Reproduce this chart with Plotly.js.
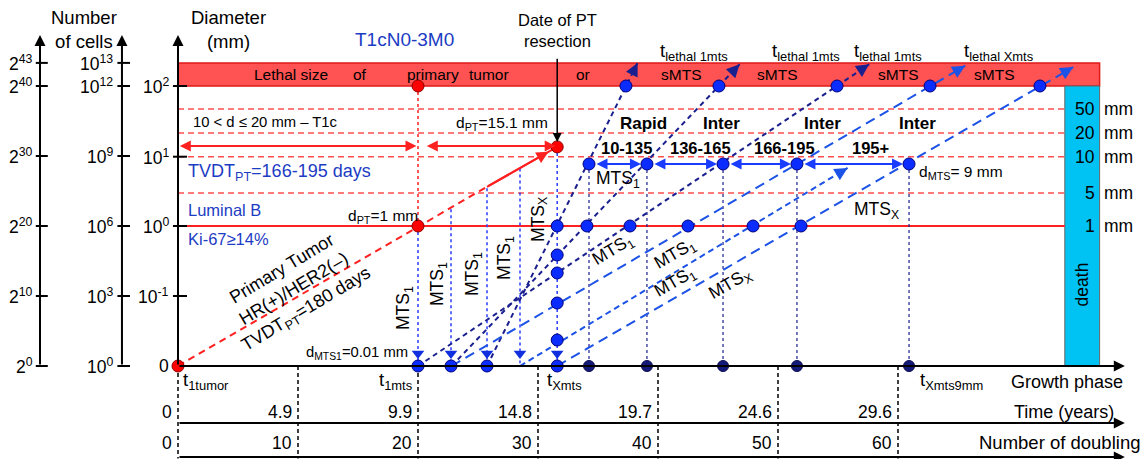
<!DOCTYPE html>
<html><head><meta charset="utf-8">
<script src="https://cdn.plot.ly/plotly-3.0.1.min.js"></script>
<style>html,body{margin:0;padding:0;background:#fff}#chart{width:1143px;height:459px}</style>
</head><body><div id="chart"></div>
<script>
// ===== DATA (x = number of doublings, y = tumour size in doublings: 0 = 0.01 mm, 20 = 1 mm, 40 = 100 mm) =====
const cellTickLevels   = [43.3, 40, 30, 20, 10, 0];
const cellLabelsBase2  = ['2<sup>43</sup>','2<sup>40</sup>','2<sup>30</sup>','2<sup>20</sup>','2<sup>10</sup>','2<sup>0</sup>'];
const cellLabelsBase10 = ['10<sup>13</sup>','10<sup>12</sup>','10<sup>9</sup>','10<sup>6</sup>','10<sup>3</sup>','10<sup>0</sup>'];
const diamTickLevels   = [40, 29.9, 20, 10, 0];
const diamTickLabels   = ['10<sup>2</sup>','10<sup>1</sup>','10<sup>0</sup>','10<sup>-1</sup>','0'];

const sizeLabels = ['50','20','10','5','1'];
const sizeLevels = [36.7, 33.3, 29.9, 24.7, 20];

const doublingMarks  = [0,10,20,30,40,50,60];
const yearLabels     = ['0','4.9','9.9','14.8','19.7','24.6','29.6'];
const doublingLabels = ['0','10','20','30','40','50','60'];

const lethalLevel = 40, bandTop = 43.3, deathStart = 73.9, deathEnd = 76.8, axisEnd = 78.9;

const ptX = [0, 20, 31.6];
const ptY = [0, 20, 31.3];
const ptLethalX = 20;

const bandWords = ['Lethal size','of','primary','tumor','or','sMTS','sMTS','sMTS','sMTS'];
const bandWordX = [9.42,15.17,21.25,25.92,33.75,41.92,49.92,60.0,68.0];

// metastasis growth lines: start on baseline, end at arrow tip
const mtsStartX = [25.75, 22.8, 20, 22.8, 31.6, 28.5];
const mtsTipX   = [38.3, 46.8, 57.6, 65.6, 74.6, 55.8];
const mtsTipY   = [43.3, 43.1, 43.1, 42.9, 42.7, 28.3];

// seeding verticals from the primary tumour line
const seedX    = [20, 22.75, 25.75, 28.5, 31.6];
const seedTopY = [20, 22.4, 25.4, 28.2, 31.3];

const topDotsX    = [37.33, 45.08, 54.92, 62.67, 71.83];
const oneMmDotsX  = [31.6, 34.08, 37.67, 42.5, 47.92, 51.92];
const nineMm      = 28.86;
const nineMmDotsX = [34.25, 39.08, 45.42, 51.58, 60.92];
const resectDotsY = [15.86, 13.29, 9.0, 3.71];
const baseBlueDotsX = [20, 22.75, 25.75, 31.6];

const rateLabels = ['Rapid','Inter','Inter','Inter'];
const tvdtRanges = ['10-135','136-165','166-195','195+'];
const lethalTimeLabels = ['t<sub>lethal 1mts</sub>','t<sub>lethal 1mts</sub>','t<sub>lethal 1mts</sub>','t<sub>lethal Xmts</sub>'];

// ===== DRAWING =====
const FONT = 'Liberation Sans, Arial, sans-serif';
const BLUE_TXT = '#1c3cc4';
const NAVY = '#1a1f8f', BLUE = '#1d52e6', DOTBLUE = '#0a2cff';
const traces = [], ann = [], shapes = [];

function seg(xs, ys, color, width, dash){
  traces.push({type:'scatter',mode:'lines',x:xs,y:ys,line:{color:color,width:width,dash:dash||'solid'},hoverinfo:'skip',showlegend:false,cliponaxis:false});
}
function arrow(x,y,ax,ay,o){
  o = o||{};
  ann.push({x:x,y:y,ax:ax,ay:ay,xref:'x',yref:'y',axref:'x',ayref:'y',text:'',showarrow:true,
    arrowhead:o.head||2,arrowsize:o.size||1,arrowwidth:o.width||2,arrowcolor:o.color||'#000',
    arrowside:o.side||'end',startarrowhead:o.head||2,startarrowsize:o.size||1,
    standoff:o.standoff||0,startstandoff:o.startstandoff||0});
}
function txt(x,y,text,o){
  o = o||{};
  const f = Object.assign({size:15,color:'#000',family:FONT}, o.font||{});
  const a = Object.assign({x:x,y:y,xref:'x',yref:'y',text:text,showarrow:false,xanchor:'center',yanchor:'middle'}, o);
  a.font = f;
  ann.push(a);
}
function dots(xs, ys, fill, line, size){
  traces.push({type:'scatter',mode:'markers',x:xs,y:ys,marker:{color:fill,size:size||11,line:{color:line,width:1}},hoverinfo:'skip',showlegend:false,cliponaxis:false});
}

// bands
shapes.push({type:'rect',xref:'x',yref:'y',x0:0,x1:deathEnd,y0:lethalLevel,y1:bandTop,fillcolor:'#ff5252',line:{color:'#e01818',width:1.5},layer:'below'});
shapes.push({type:'rect',xref:'x',yref:'y',x0:deathStart,x1:deathEnd,y0:0,y1:lethalLevel,fillcolor:'#00c2f3',line:{color:'#666',width:1},layer:'below'});

// size reference lines
sizeLevels.forEach(function(lv,i){
  const solid = (sizeLabels[i]==='1');
  seg([0,deathStart],[lv,lv], solid?'#ff2020':'#ff5050', solid?2:1.5, solid?'solid':'6px,4px');
  txt(76.6, lv, sizeLabels[i], {xanchor:'right', font:{size:17.5}});
  txt(77.0, lv, 'mm', {xanchor:'left', font:{size:17.5}});
});

// left axes
[[-11.5],[-4.67],[0]].forEach(function(a){ arrow(a[0],47.3,a[0],0,{width:2,size:1.1}); });
cellTickLevels.forEach(function(lv,i){
  seg([-11.85,-10.85],[lv,lv],'#000',2);
  txt(-11.95, lv, cellLabelsBase2[i], {xanchor:'right', font:{size:17.5}});
  seg([-5.05,-4.0],[lv,lv],'#000',2);
  txt(-5.25, lv, cellLabelsBase10[i], {xanchor:'right', font:{size:17.5}});
});
diamTickLevels.forEach(function(lv,i){
  if (i < 4) seg([-0.42,0.75],[lv,lv],'#000',2);
  txt(-0.6, lv, diamTickLabels[i], {xanchor:'right', font:{size:17.5}});
});
txt(-7.8, 48.1, 'Number<br>of cells', {font:{size:18.5}});
txt(4.2, 48.1, 'Diameter<br>(mm)', {font:{size:18.5}});

// bottom axes
arrow(axisEnd, 0, 0, 0, {width:2, size:1.1});
arrow(axisEnd, -8.14, 0, -8.14, {width:2, size:1.1});
arrow(axisEnd, -13.0, 0, -13.0, {width:2, size:1.1});
doublingMarks.forEach(function(m,i){
  seg([m,m],[0,-13.2],'#000',1.5,'4px,3px');
  txt(m-0.35, -6.57, yearLabels[i], {xanchor:'right', font:{size:17.5}});
  txt(m-0.35, -11.0, doublingLabels[i], {xanchor:'right', font:{size:17.5}});
});
txt(78.2, -6.5, 'Time (years)', {xanchor:'right', font:{size:18}});
txt(80.3, -10.9, 'Number of doubling', {xanchor:'right', font:{size:18.5}});
txt(78.9, -2.3, 'Growth phase', {xanchor:'right', font:{size:18}});
txt(0.25, -2.2, 't<sub>1tumor</sub>', {xanchor:'left', font:{size:18.5}});
txt(19.7, -2.2, 't<sub>1mts</sub>', {xanchor:'right', font:{size:18.5}});
txt(30.6, -2.2, 't<sub>Xmts</sub>', {xanchor:'left', font:{size:18.5}});
txt(61.7, -2.2, 't<sub>Xmts9mm</sub>', {xanchor:'left', font:{size:18.5}});

// band words
bandWords.forEach(function(w,i){ txt(bandWordX[i], 41.6, w, {font:{size:15.5}}); });
txt(75.3, 11.6, 'death', {textangle:-90, font:{size:17.5}});

// primary tumour
seg([ptX[0],25.75],[ptY[0],25.6],'#ff2020',2,'7px,5px');
seg([25.75,ptX[2]],[25.6,ptY[2]],'#ff2020',2);
arrow(ptX[2],ptY[2],25.75,25.6,{color:'#ff2020',width:2,standoff:10,size:1.2});
seg([ptLethalX,ptLethalX],[lethalLevel,ptY[1]],'#ff2020',1.5,'dot');
arrow(0.15,31.43,20,31.43,{color:'#ff2020',width:2,side:'end+start',size:1.1});
arrow(20.15,31.43,ptX[2],31.43,{color:'#ff2020',width:2,side:'end+start',size:1.1,standoff:7});
arrow(ptX[2],32.0,ptX[2],44.1,{color:'#000',width:1.5,size:1.2});

// seeding verticals (blue dotted with arrowheads)
seedX.forEach(function(x,i){ seg([x,x],[seedTopY[i],0.4],'#2a3cff',1.5,'dot'); });
traces.push({type:'scatter',mode:'markers',x:seedX,y:seedX.map(function(){return 1.8;}),marker:{symbol:'triangle-down',size:11,color:'#1030e0'},hoverinfo:'skip',showlegend:false});

// navy verticals from 9 mm level
nineMmDotsX.forEach(function(x){ seg([x,x],[nineMm,0],NAVY,1.2,'dot'); });

// blue range arrows at 9 mm
for (let i=0;i<nineMmDotsX.length-1;i++){
  arrow(nineMmDotsX[i+1],nineMm,nineMmDotsX[i],nineMm,{color:'#1a3cff',width:2,side:'end+start',size:1.1,standoff:6,startstandoff:6});
}

// MTS lines
mtsStartX.forEach(function(x0,i){
  const col = i<3 ? NAVY : BLUE;
  const dash = i<3 ? '5px,4px' : (i===5 ? '6px,4px' : '10px,6px');
  seg([x0,mtsTipX[i]],[0,mtsTipY[i]],col,2,dash);
  const dxp=(mtsTipX[i]-x0)*12, dyp=mtsTipY[i]*7, L=Math.sqrt(dxp*dxp+dyp*dyp), f=14/L;
  arrow(mtsTipX[i],mtsTipY[i],mtsTipX[i]-(mtsTipX[i]-x0)*f,mtsTipY[i]*(1-f),{color:col,width:2,size:1.3});
});

// dots
dots(ptX.concat([ptLethalX]), ptY.concat([lethalLevel]), '#ff0000', '#8b0000', 12);
dots(topDotsX, topDotsX.map(function(){return lethalLevel;}), DOTBLUE, '#00007a', 12);
dots(oneMmDotsX, oneMmDotsX.map(function(){return 20;}), DOTBLUE, '#00007a', 12);
dots(resectDotsY.map(function(){return 31.6;}), resectDotsY, DOTBLUE, '#00007a', 12);
dots(baseBlueDotsX, baseBlueDotsX.map(function(){return 0;}), DOTBLUE, '#00007a', 12);
dots(nineMmDotsX, nineMmDotsX.map(function(){return nineMm;}), DOTBLUE, '#00007a', 12);
dots(nineMmDotsX, nineMmDotsX.map(function(){return 0;}), '#141a7a', '#0a0a50', 11);

// texts
txt(18.9, 46.6, 'T1cN0-3M0', {font:{size:19, color:BLUE_TXT}});
txt(31.6, 47.9, 'Date of PT<br>resection', {font:{size:16.5}});
[40.0, 49.33, 56.17, 65.33].forEach(function(x,i){ txt(x, 44.9, lethalTimeLabels[i], {xanchor:'left', font:{size:18.5}}); });
txt(1.1, 34.86, '10 &lt; d ≤ 20 mm – T1c', {xanchor:'left', font:{size:14.8}});
txt(23.0, 34.7, 'd<sub>PT</sub>=15.1 mm', {xanchor:'left', font:{size:15.5}});
txt(0.65, 27.6, 'TVDT<sub>PT</sub>=166-195 days', {xanchor:'left', font:{size:18, color:BLUE_TXT}});
txt(0.65, 22.3, 'Luminal B', {xanchor:'left', font:{size:16.5, color:BLUE_TXT}});
txt(0.65, 18.2, 'Ki-67≥14%', {xanchor:'left', font:{size:16.5, color:BLUE_TXT}});
txt(14.0, 21.3, 'd<sub>PT</sub>=1 mm', {xanchor:'left', font:{size:15.5}});
txt(10.5, 1.9, 'd<sub>MTS1</sub>=0.01 mm', {xanchor:'left', font:{size:14.8}});
txt(61.6, 27.6, 'd<sub>MTS</sub>= 9 mm', {xanchor:'left', font:{size:15.5}});
txt(34.7, 26.7, 'MTS<sub>1</sub>', {xanchor:'left', font:{size:17.5}});
txt(56.2, 22.2, 'MTS<sub>X</sub>', {xanchor:'left', font:{size:17.5}});
[[18.92,8.29,'MTS<sub>1</sub>'],[21.67,11.71,'MTS<sub>1</sub>'],[24.58,13.14,'MTS<sub>1</sub>'],[27.33,15.43,'MTS<sub>1</sub>'],[30.1,20.9,'MTS<sub>X</sub>']].forEach(function(l){
  txt(l[0], l[1], l[2], {textangle:-90, font:{size:17.5}});
});
[[36.25,16.57,-31,'MTS<sub>1</sub>'],[41.42,16.0,-30,'MTS<sub>1</sub>'],[41.42,12.0,-30,'MTS<sub>1</sub>'],[46.0,11.6,-30,'MTS<sub>X</sub>']].forEach(function(l){
  txt(l[0], l[1], l[3], {textangle:l[2], font:{size:17.5}});
});
txt(9.7, 10.9, 'Primary Tumor<br>HR(+)/HER2(–)<br>TVDT<sub>PT</sub>=180 days', {textangle:-31, font:{size:18}});
[38.83,45.25,53.67,61.6].forEach(function(x,i){ txt(x, 34.7, '<b>'+rateLabels[i]+'</b>', {font:{size:17}}); });
[37.4,43.58,50.5,57.67].forEach(function(x,i){ txt(x, 31.1, '<b>'+tvdtRanges[i]+'</b>', {font:{size:16.5}}); });

const layout = {
  width:1143, height:459, margin:{l:0,r:0,t:0,b:0,pad:0},
  paper_bgcolor:'#fff', plot_bgcolor:'#fff', showlegend:false,
  xaxis:{range:[-14.833,80.417], visible:false, fixedrange:true},
  yaxis:{range:[-13.286,52.286], visible:false, fixedrange:true},
  font:{family:FONT}, shapes:shapes, annotations:ann
};
Plotly.newPlot('chart', traces, layout, {displayModeBar:false});
</script></body></html>
